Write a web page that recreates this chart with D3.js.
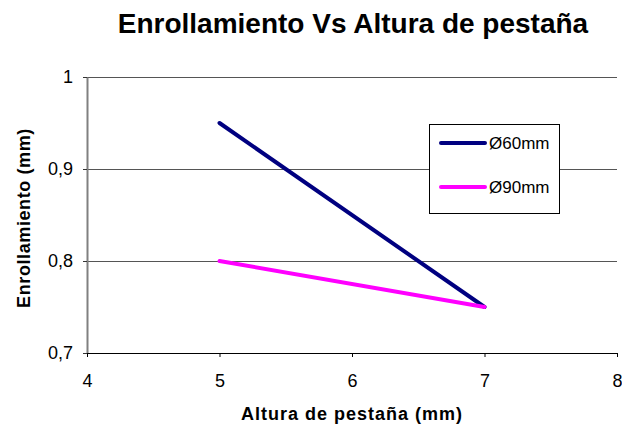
<!DOCTYPE html>
<html>
<head>
<meta charset="utf-8">
<script src="https://cdn.jsdelivr.net/npm/d3@7"></script>
<style>
  html, body { margin: 0; padding: 0; background: #fff; }
  svg { display: block; font-family: "Liberation Sans", Arial, sans-serif; }
</style>
</head>
<body>
<svg id="chart" width="622" height="428"></svg>
<script>
// Enrollamiento measured against flange height, per diameter
const alturas = [5, 7];
const serie60 = [0.95, 0.75];
const serie90 = [0.80, 0.75];
const seriesNames = ["Ø60mm", "Ø90mm"];
const seriesColors = ["#000080", "#FF00FF"];
const xTicks = [4, 5, 6, 7, 8];
const yTicks = [0.7, 0.8, 0.9, 1.0];

const svg = d3.select("#chart");
const m = { left: 87, right: 617, top: 77, bottom: 353 };

const x = d3.scaleLinear().domain([4, 8]).range([m.left, m.right]);
const y = d3.scaleLinear().domain([0.7, 1.0]).range([m.bottom, m.top]);
const fmt = v => (v === 1 ? "1" : d3.format(".1f")(v).replace(".", ","));

// horizontal gridlines
svg.append("g")
  .selectAll("line")
  .data(yTicks.filter(v => v > 0.7))
  .join("line")
  .attr("x1", m.left).attr("x2", m.right)
  .attr("y1", d => y(d)).attr("y2", d => y(d))
  .attr("stroke", "#555").attr("stroke-width", 1)
  .attr("shape-rendering", "crispEdges");

// y axis
const yAxis = svg.append("g")
  .attr("transform", `translate(${m.left},0)`)
  .call(d3.axisLeft(y).tickValues(yTicks).tickFormat(fmt).tickSize(4).tickSizeOuter(0));
yAxis.select(".domain").attr("stroke", "#808080").attr("stroke-width", 2);
yAxis.selectAll(".tick line").attr("stroke", "#333");
yAxis.selectAll(".tick text").attr("font-size", 18).attr("fill", "#000")
  .attr("font-family", "Liberation Sans, Arial, sans-serif").attr("x", -14);

// x axis
const xAxis = svg.append("g")
  .attr("transform", `translate(0,${m.bottom})`)
  .call(d3.axisBottom(x).tickValues(xTicks).tickFormat(d3.format("d")).tickSize(4).tickSizeOuter(0));
xAxis.select(".domain").attr("stroke", "#000").attr("stroke-width", 1);
xAxis.selectAll(".tick line").attr("stroke", "#000");
xAxis.selectAll(".tick text").attr("font-size", 18).attr("fill", "#000")
  .attr("font-family", "Liberation Sans, Arial, sans-serif").attr("y", 21);

// series lines
const line = d3.line().x((d, i) => x(alturas[i])).y(d => y(d));
[serie60, serie90].forEach((s, i) => {
  svg.append("path")
    .datum(s)
    .attr("d", line)
    .attr("fill", "none")
    .attr("stroke", seriesColors[i])
    .attr("stroke-width", 4)
    .attr("stroke-linecap", "round");
});

// title
svg.append("text")
  .attr("x", 353).attr("y", 33)
  .attr("text-anchor", "middle")
  .attr("font-size", 28).attr("font-weight", "bold")
  .text("Enrollamiento Vs Altura de pestaña");

// axis titles
svg.append("text")
  .attr("x", 352).attr("y", 420)
  .attr("text-anchor", "middle")
  .attr("font-size", 18).attr("font-weight", "bold")
  .attr("letter-spacing", 1)
  .text("Altura de pestaña (mm)");

svg.append("text")
  .attr("transform", "translate(30,218) rotate(-90)")
  .attr("text-anchor", "middle")
  .attr("font-size", 18).attr("font-weight", "bold")
  .attr("letter-spacing", 0.6)
  .text("Enrollamiento (mm)");

// legend
const lg = svg.append("g").attr("transform", "translate(429,124)");
lg.append("rect")
  .attr("width", 130).attr("height", 89)
  .attr("fill", "#fff").attr("stroke", "#000").attr("stroke-width", 1)
  .attr("shape-rendering", "crispEdges");
seriesNames.forEach((n, i) => {
  const yy = 19 + i * 44;
  lg.append("line")
    .attr("x1", 12).attr("x2", 56).attr("y1", yy).attr("y2", yy)
    .attr("stroke", seriesColors[i]).attr("stroke-width", 4).attr("stroke-linecap", "round");
  lg.append("text")
    .attr("x", 60).attr("y", yy + 6)
    .attr("font-size", 17)
    .text(n);
});
</script>
</body>
</html>
